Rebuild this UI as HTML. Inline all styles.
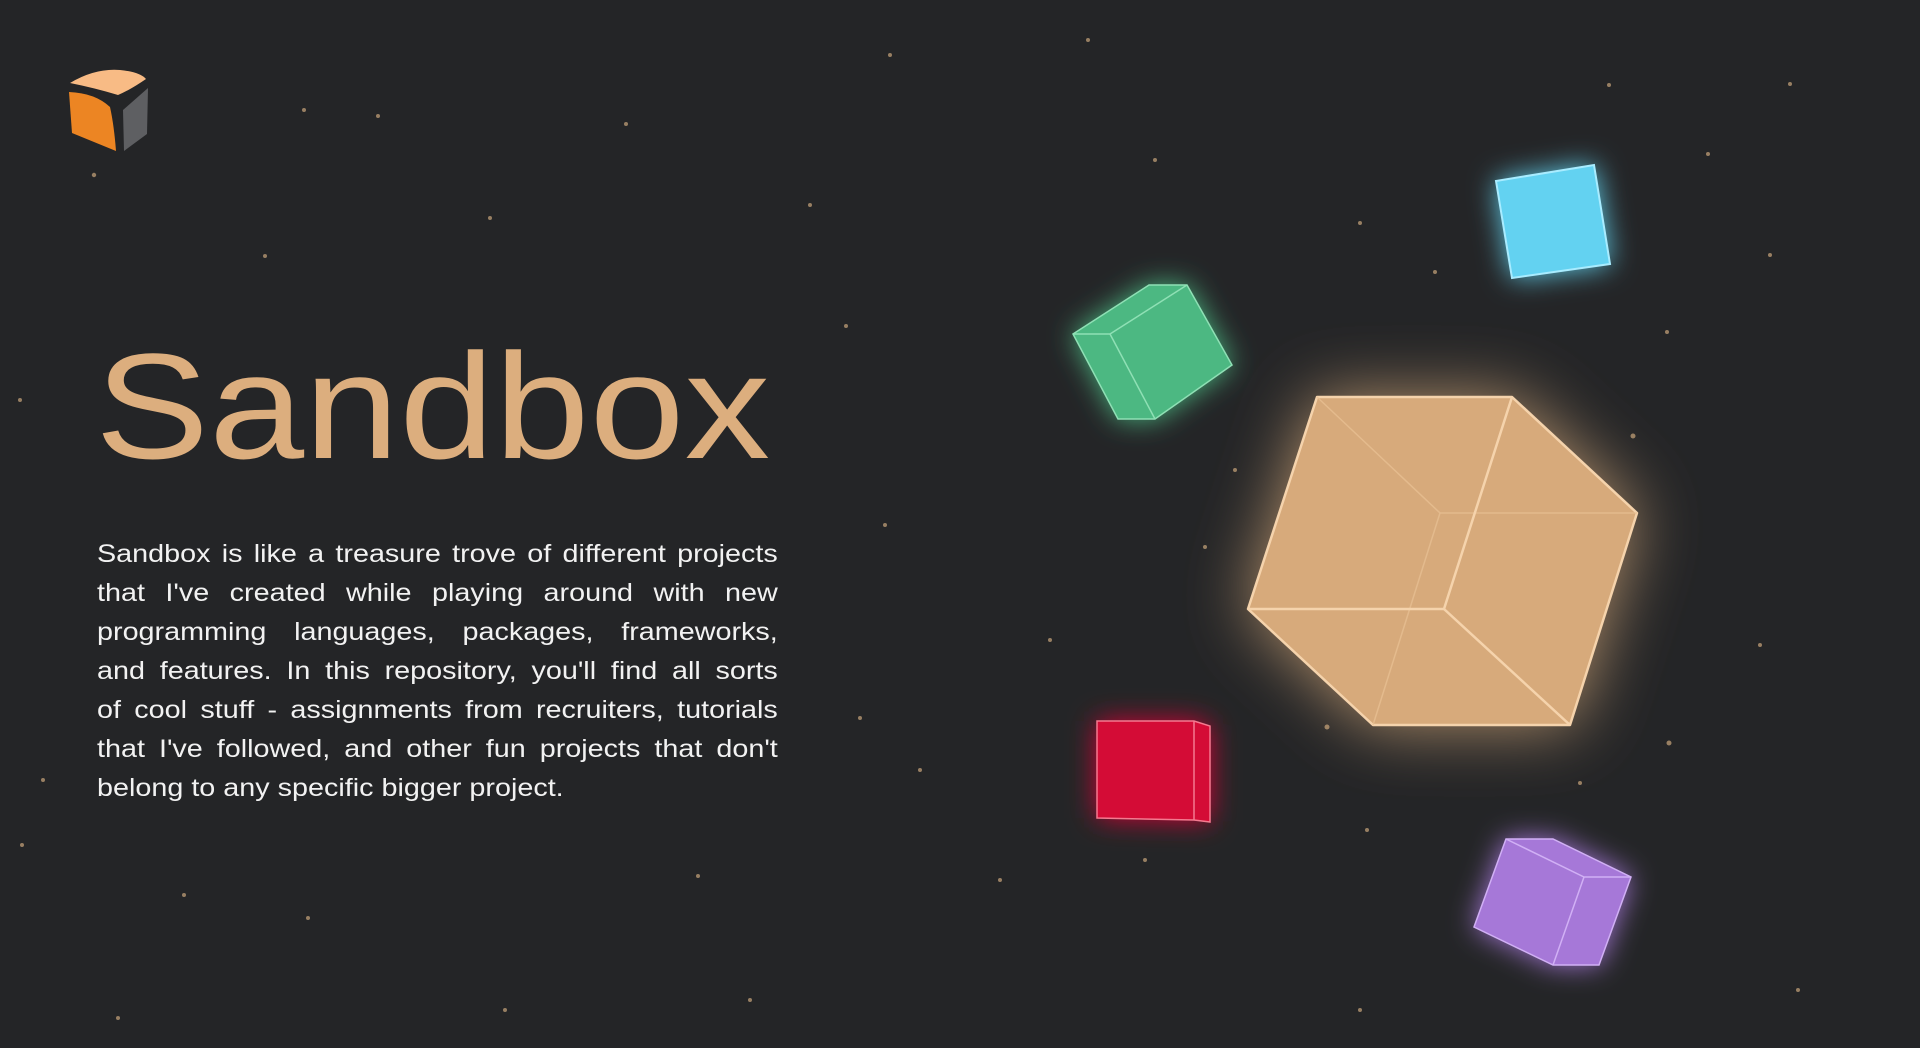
<!DOCTYPE html>
<html><head><meta charset="utf-8"><style>
html,body{margin:0;padding:0;background:#242527;width:1920px;height:1048px;overflow:hidden}
body{position:relative;font-family:"Liberation Sans","DejaVu Sans",sans-serif}
h1{position:absolute;left:95px;top:331px;margin:0;font-weight:400;font-size:150px;line-height:1;color:#dcae7e;transform:scaleX(1.14);transform-origin:0 0;white-space:nowrap}
.p{position:absolute;left:97px;top:535px;width:592px;margin:0;font-size:25px;line-height:39px;color:#f2f2f2;transform:scaleX(1.15);transform-origin:0 0}
.p div{text-align:justify;text-align-last:justify;white-space:nowrap}
.p div.l{text-align-last:left}
svg{position:absolute;left:0;top:0}
</style></head><body>
<svg width="1920" height="1048" viewBox="0 0 1920 1048">
<defs>
<filter id="g1" x="-50%" y="-50%" width="200%" height="200%"><feGaussianBlur stdDeviation="34"/></filter>
<filter id="g2" x="-80%" y="-80%" width="260%" height="260%"><feGaussianBlur stdDeviation="14"/></filter>
</defs>
<g fill="#c9a57c" opacity="0.7">
<circle cx="94" cy="175" r="2.2"/><circle cx="304" cy="110" r="2"/><circle cx="378" cy="116" r="2"/><circle cx="626" cy="124" r="2"/><circle cx="890" cy="55" r="2"/><circle cx="1088" cy="40" r="2"/><circle cx="1609" cy="85" r="2"/><circle cx="1790" cy="84" r="2"/><circle cx="1708" cy="154" r="2"/><circle cx="1360" cy="223" r="2"/><circle cx="1435" cy="272" r="2"/><circle cx="1770" cy="255" r="2"/><circle cx="1667" cy="332" r="2"/><circle cx="1633" cy="436" r="2.5"/><circle cx="1205" cy="547" r="2"/><circle cx="1327" cy="727" r="2.5"/><circle cx="1669" cy="743" r="2.5"/><circle cx="1580" cy="783" r="2"/><circle cx="1760" cy="645" r="2"/><circle cx="1367" cy="830" r="2"/><circle cx="1145" cy="860" r="2"/><circle cx="1798" cy="990" r="2"/><circle cx="1360" cy="1010" r="2"/><circle cx="698" cy="876" r="2"/><circle cx="505" cy="1010" r="2"/><circle cx="118" cy="1018" r="2"/><circle cx="43" cy="780" r="2"/><circle cx="22" cy="845" r="2"/><circle cx="184" cy="895" r="2"/><circle cx="308" cy="918" r="2"/><circle cx="846" cy="326" r="2"/><circle cx="885" cy="525" r="2"/><circle cx="860" cy="718" r="2"/><circle cx="265" cy="256" r="2"/><circle cx="490" cy="218" r="2"/><circle cx="810" cy="205" r="2"/><circle cx="1000" cy="880" r="2"/><circle cx="1155" cy="160" r="2"/><circle cx="1500" cy="925" r="2"/><circle cx="1235" cy="470" r="2"/><circle cx="20" cy="400" r="2"/><circle cx="750" cy="1000" r="2"/><circle cx="920" cy="770" r="2"/><circle cx="1050" cy="640" r="2"/>
</g>
<!-- logo -->
<path d="M70,83 Q95,68 120,70 Q140,72 146,79 Q130,90 118,95 Q95,88 70,83Z" fill="#f8bb85"/>
<path d="M69,92 Q95,93 110,107 Q114,125 116,151 L72,133Z" fill="#ec8523"/>
<path d="M123,110 L148,88 L147,134 L124,151Z" fill="#5e5f62"/>
<!-- big cube glow -->
<polygon points="1317,397 1512,397 1637,513 1570,725 1373,725 1248,609" fill="#dcae7e" opacity="0.8" filter="url(#g1)"/>
<polygon points="1317,397 1512,397 1637,513 1570,725 1373,725 1248,609" fill="#d7aa7b" stroke="#f5d3ac" stroke-width="2.5" stroke-linejoin="round"/>
<g stroke="#e9c296" stroke-width="1.5" fill="none" opacity="0.7"><polyline points="1317,397 1440,513 1373,725"/><line x1="1440" y1="513" x2="1637" y2="513"/></g>
<g stroke="#f5d3ac" stroke-width="2.5" fill="none"><polyline points="1248,609 1444,609 1512,397"/><line x1="1444" y1="609" x2="1570" y2="725"/></g>
<!-- cyan -->
<polygon points="1496,181 1594,165 1610,264 1512,278" fill="#62d3f0" filter="url(#g2)"/>
<polygon points="1496,181 1594,165 1610,264 1512,278" fill="#63d2f1" stroke="#a9ecff" stroke-width="2"/>
<!-- green -->
<polygon points="1073,334 1149,285 1187,285 1232,365 1155,419 1118,419" fill="#4cb882" filter="url(#g2)"/>
<polygon points="1073,334 1149,285 1187,285 1232,365 1155,419 1118,419" fill="#4cb882" stroke="#8fe0b5" stroke-width="1.5"/>
<g stroke="#8fe0b5" stroke-width="1.5" fill="none"><polyline points="1073,334 1110,334 1187,285"/><line x1="1110" y1="334" x2="1155" y2="419"/></g>
<!-- red -->
<polygon points="1097,721 1194,721 1210,726 1210,822 1194,820 1097,818" fill="#d50c36" filter="url(#g2)"/>
<polygon points="1097,721 1194,721 1210,726 1210,822 1194,820 1097,818" fill="#d40c36" stroke="#f47a90" stroke-width="1.5"/>
<line x1="1194" y1="721" x2="1194" y2="820" stroke="#f47a90" stroke-width="1.5"/>
<!-- purple -->
<polygon points="1506,839 1553,839 1631,877 1599,965 1553,965 1474,927" fill="#a678d8" filter="url(#g2)"/>
<polygon points="1506,839 1553,839 1631,877 1599,965 1553,965 1474,927" fill="#a678d8" stroke="#d1b0f5" stroke-width="1.5"/>
<g stroke="#d1b0f5" stroke-width="1.5" fill="none"><polyline points="1506,839 1584,877 1631,877"/><line x1="1584" y1="877" x2="1553" y2="965"/></g>
</svg>
<h1>Sandbox</h1>
<div class="p">
<div>Sandbox is like a treasure trove of different projects</div>
<div>that I've created while playing around with new</div>
<div>programming languages, packages, frameworks,</div>
<div>and features. In this repository, you'll find all sorts</div>
<div>of cool stuff - assignments from recruiters, tutorials</div>
<div>that I've followed, and other fun projects that don't</div>
<div class="l">belong to any specific bigger project.</div>
</div>
</body></html>
